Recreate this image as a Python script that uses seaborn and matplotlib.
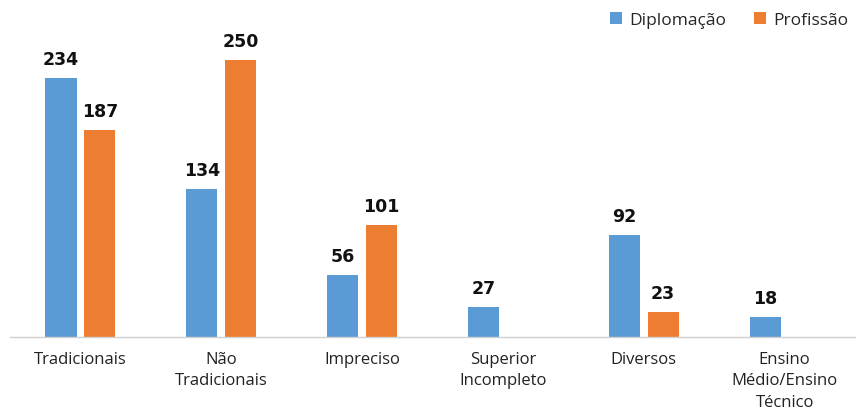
import numpy as np
import pandas as pd
import matplotlib
matplotlib.use("Agg")
import matplotlib.pyplot as plt
import seaborn as sns

categories = ["Tradicionais", "Não\nTradicionais", "Impreciso", "Superior\nIncompleto",
              "Diversos", "Ensino\nMédio/Ensino\nTécnico"]
diplomacao = [234, 134, 56, 27, 92, 18]
profissao = [187, 250, 101, np.nan, 23, np.nan]
series = ["Diplomação", "Profissão"]
colors = ["#5B9BD5", "#ED7D31"]

df = pd.DataFrame({
    "categoria": categories * 2,
    "valor": diplomacao + profissao,
    "serie": [series[0]] * len(categories) + [series[1]] * len(categories),
})

sns.set_theme(style="white")
plt.rcParams["font.family"] = ["Open Sans", "DejaVu Sans"]

fig = plt.figure(figsize=(8.61, 4.10), dpi=100)
ax = fig.add_axes([10 / 861, 1 - 338 / 410, 845 / 861, (338 - 28) / 410])

sns.barplot(data=df, x="categoria", y="valor", hue="serie", palette=colors,
            width=0.552, gap=0.2, saturation=1, linewidth=0, ax=ax, legend=True)

for cont in ax.containers:
    ax.bar_label(cont, fmt="%d", padding=7, fontsize=12.5, fontweight="bold",
                 family="DejaVu Sans", color="#111111")

ax.set_xlim(-0.5, 5.5)
ax.set_ylim(0, 280)
ax.set_xlabel("")
ax.set_ylabel("")
ax.set_yticks([])
ax.tick_params(axis="x", length=0, labelsize=12, colors="#222222", pad=10)
for lab in ax.get_xticklabels():
    lab.set_linespacing(1.45)
for s in ["top", "left", "right"]:
    ax.spines[s].set_visible(False)
ax.spines["bottom"].set_color("#d0d0d0")
ax.spines["bottom"].set_linewidth(1)

leg = ax.legend(loc="upper right", bbox_to_anchor=(1.0, 1.07), ncol=2, frameon=False,
                fontsize=12.5, handlelength=0.7, handleheight=0.7, handletextpad=0.4,
                columnspacing=1.6, borderaxespad=0)

fig.savefig("out.png", dpi=100)
